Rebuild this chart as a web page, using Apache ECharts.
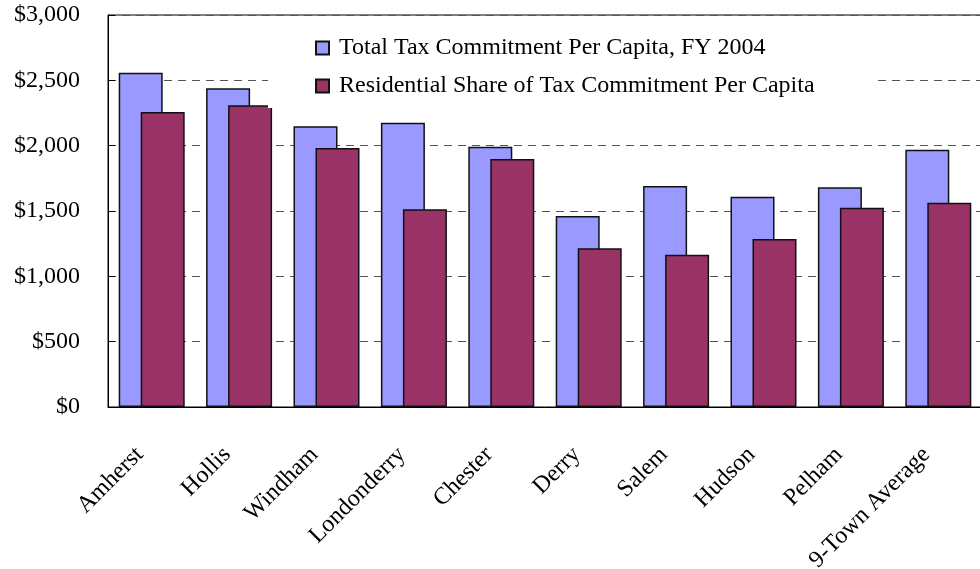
<!DOCTYPE html>
<html>
<head>
<meta charset="utf-8">
<script src="https://cdn.jsdelivr.net/npm/echarts@6/dist/echarts.min.js"></script>
<style>
  html, body { margin: 0; padding: 0; background: #fff; }
  #chart { width: 980px; height: 569px; }
</style>
</head>
<body>
<div id="chart"></div>
<script>
// Per-capita tax commitment by town, FY 2004
const towns = ['Amherst', 'Hollis', 'Windham', 'Londonderry', 'Chester', 'Derry', 'Salem', 'Hudson', 'Pelham', '9-Town Average'];
const totalPerCapita = [2558, 2439, 2148, 2176, 1992, 1462, 1691, 1610, 1681, 1969];
const residentialPerCapita = [2258, 2309, 1982, 1513, 1898, 1214, 1166, 1286, 1525, 1564];
const seriesNames = ['Total Tax Commitment Per Capita, FY 2004', 'Residential Share of Tax Commitment Per Capita'];

const FONT = '"Liberation Serif", "Times New Roman", serif';

const chart = echarts.init(document.getElementById('chart'), null, { renderer: 'canvas' });

chart.setOption({
  animation: false,
  backgroundColor: '#ffffff',
  textStyle: { fontFamily: FONT },
  grid: {
    left: 108, right: -2, top: 15, bottom: 162,
    containLabel: false,
    outerBoundsMode: 'none',
    show: true, borderColor: '#000', borderWidth: 1, backgroundColor: 'transparent'
  },
  legend: {
    orient: 'vertical',
    left: 268, top: 30,
    padding: [6, 60, 10, 47],
    backgroundColor: '#ffffff',
    icon: 'rect',
    itemWidth: 13, itemHeight: 13,
    itemGap: 14,
    textStyle: { fontFamily: FONT, fontSize: 24, color: '#000', lineHeight: 24, padding: [0, 0, 0, 5] },
    data: seriesNames
  },
  xAxis: {
    type: 'category',
    data: towns,
    axisLine: { show: true, lineStyle: { color: '#000', width: 1 } },
    axisTick: { show: false },
    axisLabel: {
      rotate: 45, interval: 0, margin: 32,
      fontFamily: FONT, fontSize: 24, color: '#000',
      padding: [0, 17, 0, 0]
    },
    splitLine: { show: false }
  },
  yAxis: {
    type: 'value',
    min: 0, max: 3000, interval: 500,
    axisLine: { show: true, lineStyle: { color: '#000', width: 1 } },
    axisTick: { show: true, inside: true, length: 7, lineStyle: { color: '#000' } },
    axisLabel: {
      margin: 28, fontFamily: FONT, fontSize: 24, color: '#000',
      formatter: v => '$' + v.toLocaleString('en-US')
    },
    splitLine: { show: true, lineStyle: { color: '#555', width: 1, type: [8, 6] } }
  },
  series: [
    {
      name: seriesNames[0], type: 'bar', data: totalPerCapita,
      barWidth: 44, barGap: '-50%',
      itemStyle: { color: '#9999FF', borderColor: '#111', borderWidth: 1.5 }
    },
    {
      name: seriesNames[1], type: 'bar', data: residentialPerCapita,
      barWidth: 44, barGap: '-50%',
      itemStyle: { color: '#993366', borderColor: '#111', borderWidth: 1.5 }
    }
  ]
});
</script>
</body>
</html>
